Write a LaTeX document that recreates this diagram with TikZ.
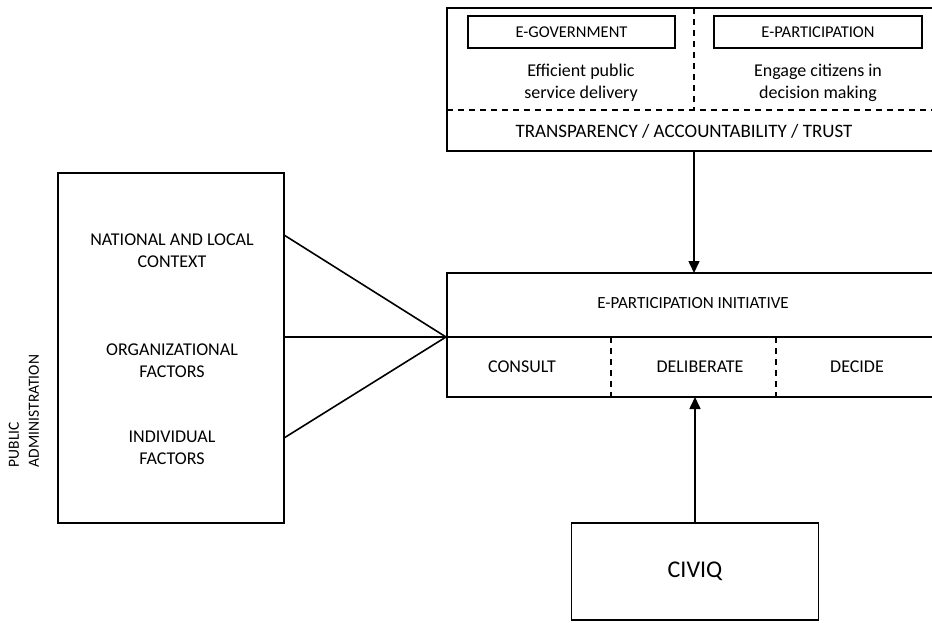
\documentclass[tikz,border=0pt]{standalone}
\usepackage{fontspec}
\setmainfont{Carlito}
\usetikzlibrary{arrows.meta,positioning}

\tikzset{
  box/.style={draw, rectangle, line width=1.6pt, inner sep=0pt, outer sep=0pt},
  lbl/.style={align=center, font=\fontsize{18}{22}\selectfont, inner sep=0pt},
  sep/.style={line width=1.6pt, dash pattern=on 6pt off 5pt},
  link/.style={line width=1.6pt},
  arr/.style={line width=1.6pt, -{Triangle[length=12pt,width=11pt]}},
}

\begin{document}
\begin{tikzpicture}[x=1pt, y=-1pt]
    \useasboundingbox (0,0) rectangle (932,623);
    \clip (0,0) rectangle (932,623);

    % goals block
    \node[box, minimum width=494pt, minimum height=143pt] (goals) at (694,79.5) {};
    \node[box, lbl, font=\fontsize{16.5}{22}\selectfont, minimum width=207pt, minimum height=32pt] (egov) at (571.5,32) {E-GOVERNMENT};
    \node[box, lbl, font=\fontsize{16.5}{22}\selectfont, minimum width=208pt, minimum height=32pt] (epart) at (818,32) {E-PARTICIPATION};
    \node[lbl] (egovtxt) at (581,83) {Efficient public\\service delivery};
    \node[lbl] (eparttxt) at (818,83) {Engage citizens in\\decision making};
    \node[lbl, font=\fontsize{19}{22}\selectfont] (values) at (684,131) {TRANSPARENCY / ACCOUNTABILITY / TRUST};
    \coordinate (split) at (447,110);
    \draw[sep] (split) -- (split -| goals.east);
    \draw[sep] (goals.north) -- (goals.north |- split);

    % initiative block
    \node[box, minimum width=494pt, minimum height=124pt] (init) at (694,335) {};
    \node[lbl, font=\fontsize{17}{22}\selectfont] (inittitle) at (693,303) {E-PARTICIPATION INITIATIVE};
    \coordinate (hub) at (446,337);
    \draw[link] (hub) -- (hub -| init.east);
    \node[lbl] (consult) at (522,367) {CONSULT};
    \node[lbl] (deliberate) at (700,367) {DELIBERATE};
    \node[lbl] (decide) at (857,367) {DECIDE};
    \foreach \x in {611,776}
        \draw[sep] (\x,337) -- (\x,397);

    % public administration
    \node[box, minimum width=226pt, minimum height=350pt] (admin) at (171,348) {};
    \node[lbl] (context) at (172,251) {NATIONAL AND LOCAL\\CONTEXT};
    \node[lbl] (orgf) at (172,361) {ORGANIZATIONAL\\FACTORS};
    \node[lbl] (indf) at (172,448) {INDIVIDUAL\\FACTORS};
    \node[lbl, align=left, font=\fontsize{15.5}{20}\selectfont, rotate=90] (padmin) at (24,411) {PUBLIC\\ADMINISTRATION};
    \foreach \y in {235,337,438}
        \draw[link] (admin.east |- 0,\y) -- (hub);

    % civiq
    \node[box, font=\fontsize{24}{28}\selectfont, minimum width=247pt, minimum height=97pt] (civiq) at (695,571.5) {CIVIQ};

    \draw[arr] (goals.south) -- (init.north);
    \draw[arr] (civiq.north) -- (civiq.north |- init.south);
\end{tikzpicture}
\end{document}
